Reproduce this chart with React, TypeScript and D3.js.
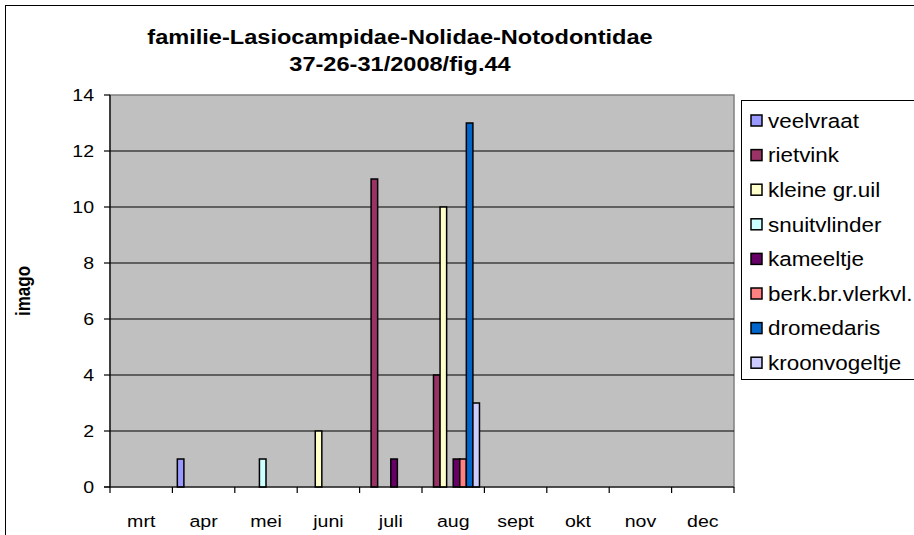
import * as d3 from "d3";

const months = ["mrt", "apr", "mei", "juni", "juli", "aug", "sept", "okt", "nov", "dec"];
const seriesNames = [
  "veelvraat",
  "rietvink",
  "kleine gr.uil",
  "snuitvlinder",
  "kameeltje",
  "berk.br.vlerkvl.",
  "dromedaris",
  "kroonvogeltje",
];
const seriesColors = ["#9999FF", "#993366", "#FFFFCC", "#CCFFFF", "#660066", "#FF8080", "#0066CC", "#CCCCFF"];

// values per month (mrt..dec)
const veelvraat = [0, 1, 0, 0, 0, 0, 0, 0, 0, 0];
const rietvink = [0, 0, 0, 0, 11, 4, 0, 0, 0, 0];
const kleineGrUil = [0, 0, 0, 2, 0, 10, 0, 0, 0, 0];
const snuitvlinder = [0, 0, 1, 0, 0, 0, 0, 0, 0, 0];
const kameeltje = [0, 0, 0, 0, 1, 1, 0, 0, 0, 0];
const berkBrVlerkvl = [0, 0, 0, 0, 0, 1, 0, 0, 0, 0];
const dromedaris = [0, 0, 0, 0, 0, 13, 0, 0, 0, 0];
const kroonvogeltje = [0, 0, 0, 0, 0, 3, 0, 0, 0, 0];

const seriesValues = [veelvraat, rietvink, kleineGrUil, snuitvlinder, kameeltje, berkBrVlerkvl, dromedaris, kroonvogeltje];
const yTicks = [0, 2, 4, 6, 8, 10, 12, 14];

const W = 914;
const H = 535;
const plot = { left: 110, right: 734, top: 95, bottom: 487 };
const font = "'Liberation Sans', Arial, sans-serif";
const SX = 1.15; // the reference text is a bit wide

function Txt({
  x,
  y,
  size,
  anchor = "start",
  bold = false,
  dy,
  children,
}: {
  x: number;
  y: number;
  size: number;
  anchor?: "start" | "middle" | "end";
  bold?: boolean;
  dy?: string;
  children: any;
}) {
  return (
    <text
      transform={`translate(${x},${y}) scale(${SX},1)`}
      textAnchor={anchor}
      fontSize={size}
      fontWeight={bold ? "bold" : "normal"}
      dy={dy}
    >
      {children}
    </text>
  );
}

export default function App() {
  const x = d3.scaleBand<string>().domain(months).range([plot.left, plot.right]).padding(0);
  const xs = d3
    .scaleBand<string>()
    .domain(seriesNames)
    .range([0, x.bandwidth()])
    .paddingInner(0)
    .paddingOuter(0.75);
  const y = d3.scaleLinear().domain([0, 14]).range([plot.bottom, plot.top]);

  return (
    <svg
      width={W}
      height={H}
      style={{ position: "absolute", left: 0, top: 0, background: "#fff" }}
      fontFamily={font}
    >
      <rect x={5.5} y={5.5} width={W + 10} height={H + 10} fill="#fff" stroke="#000" strokeWidth={1} />

      <Txt x={400} y={44} size={20.5} anchor="middle" bold>
        familie-Lasiocampidae-Nolidae-Notodontidae
      </Txt>
      <Txt x={400} y={71} size={20.5} anchor="middle" bold>
        37-26-31/2008/fig.44
      </Txt>

      {/* plot area */}
      <rect
        x={plot.left}
        y={plot.top}
        width={plot.right - plot.left}
        height={plot.bottom - plot.top}
        fill="#C0C0C0"
        stroke="#808080"
        strokeWidth={1.5}
      />
      {yTicks
        .filter((t) => t > 0 && t < 14)
        .map((t) => (
          <line key={t} x1={plot.left} x2={plot.right} y1={y(t)} y2={y(t)} stroke="#000" strokeWidth={1.2} />
        ))}

      {/* bars */}
      {seriesValues.map((vals, si) =>
        vals.map((v, mi) =>
          v > 0 ? (
            <rect
              key={`${si}-${mi}`}
              x={(x(months[mi]) ?? 0) + (xs(seriesNames[si]) ?? 0)}
              y={y(v)}
              width={xs.bandwidth()}
              height={y(0) - y(v)}
              fill={seriesColors[si]}
              stroke="#000"
              strokeWidth={1.5}
            />
          ) : null
        )
      )}

      {/* axes */}
      <line x1={plot.left} x2={plot.left} y1={plot.top} y2={plot.bottom} stroke="#000" strokeWidth={1.2} />
      <line x1={plot.left - 6} x2={plot.right} y1={plot.bottom} y2={plot.bottom} stroke="#000" strokeWidth={1.2} />
      {yTicks.map((t) => (
        <g key={t}>
          <line x1={plot.left - 6} x2={plot.left} y1={y(t)} y2={y(t)} stroke="#000" strokeWidth={1.2} />
          <Txt x={94} y={y(t)} size={17} anchor="end" dy="0.35em">
            {t}
          </Txt>
        </g>
      ))}
      {[...months.map((m) => x(m) ?? 0), plot.right].map((px, i) => (
        <line key={i} x1={px} x2={px} y1={plot.bottom} y2={plot.bottom + 6} stroke="#000" strokeWidth={1.2} />
      ))}
      {months.map((m) => (
        <Txt key={m} x={(x(m) ?? 0) + x.bandwidth() / 2} y={527} size={17} anchor="middle">
          {m}
        </Txt>
      ))}
      <text
        transform={`translate(30, ${(plot.top + plot.bottom) / 2}) rotate(-90) scale(1,${SX})`}
        textAnchor="middle"
        fontWeight="bold"
        fontSize={17}
      >
        imago
      </text>

      {/* legend */}
      <rect x={741.5} y={100.5} width={200} height={279} fill="#fff" stroke="#000" strokeWidth={1} />
      {seriesNames.map((name, i) => {
        const cy = 121 + i * 34.6;
        return (
          <g key={name}>
            <rect x={751} y={cy - 6} width={11} height={11} fill={seriesColors[i]} stroke="#000" strokeWidth={1.5} />
            <Txt x={768} y={cy} size={19.5} dy="0.35em">
              {name}
            </Txt>
          </g>
        );
      })}
    </svg>
  );
}
